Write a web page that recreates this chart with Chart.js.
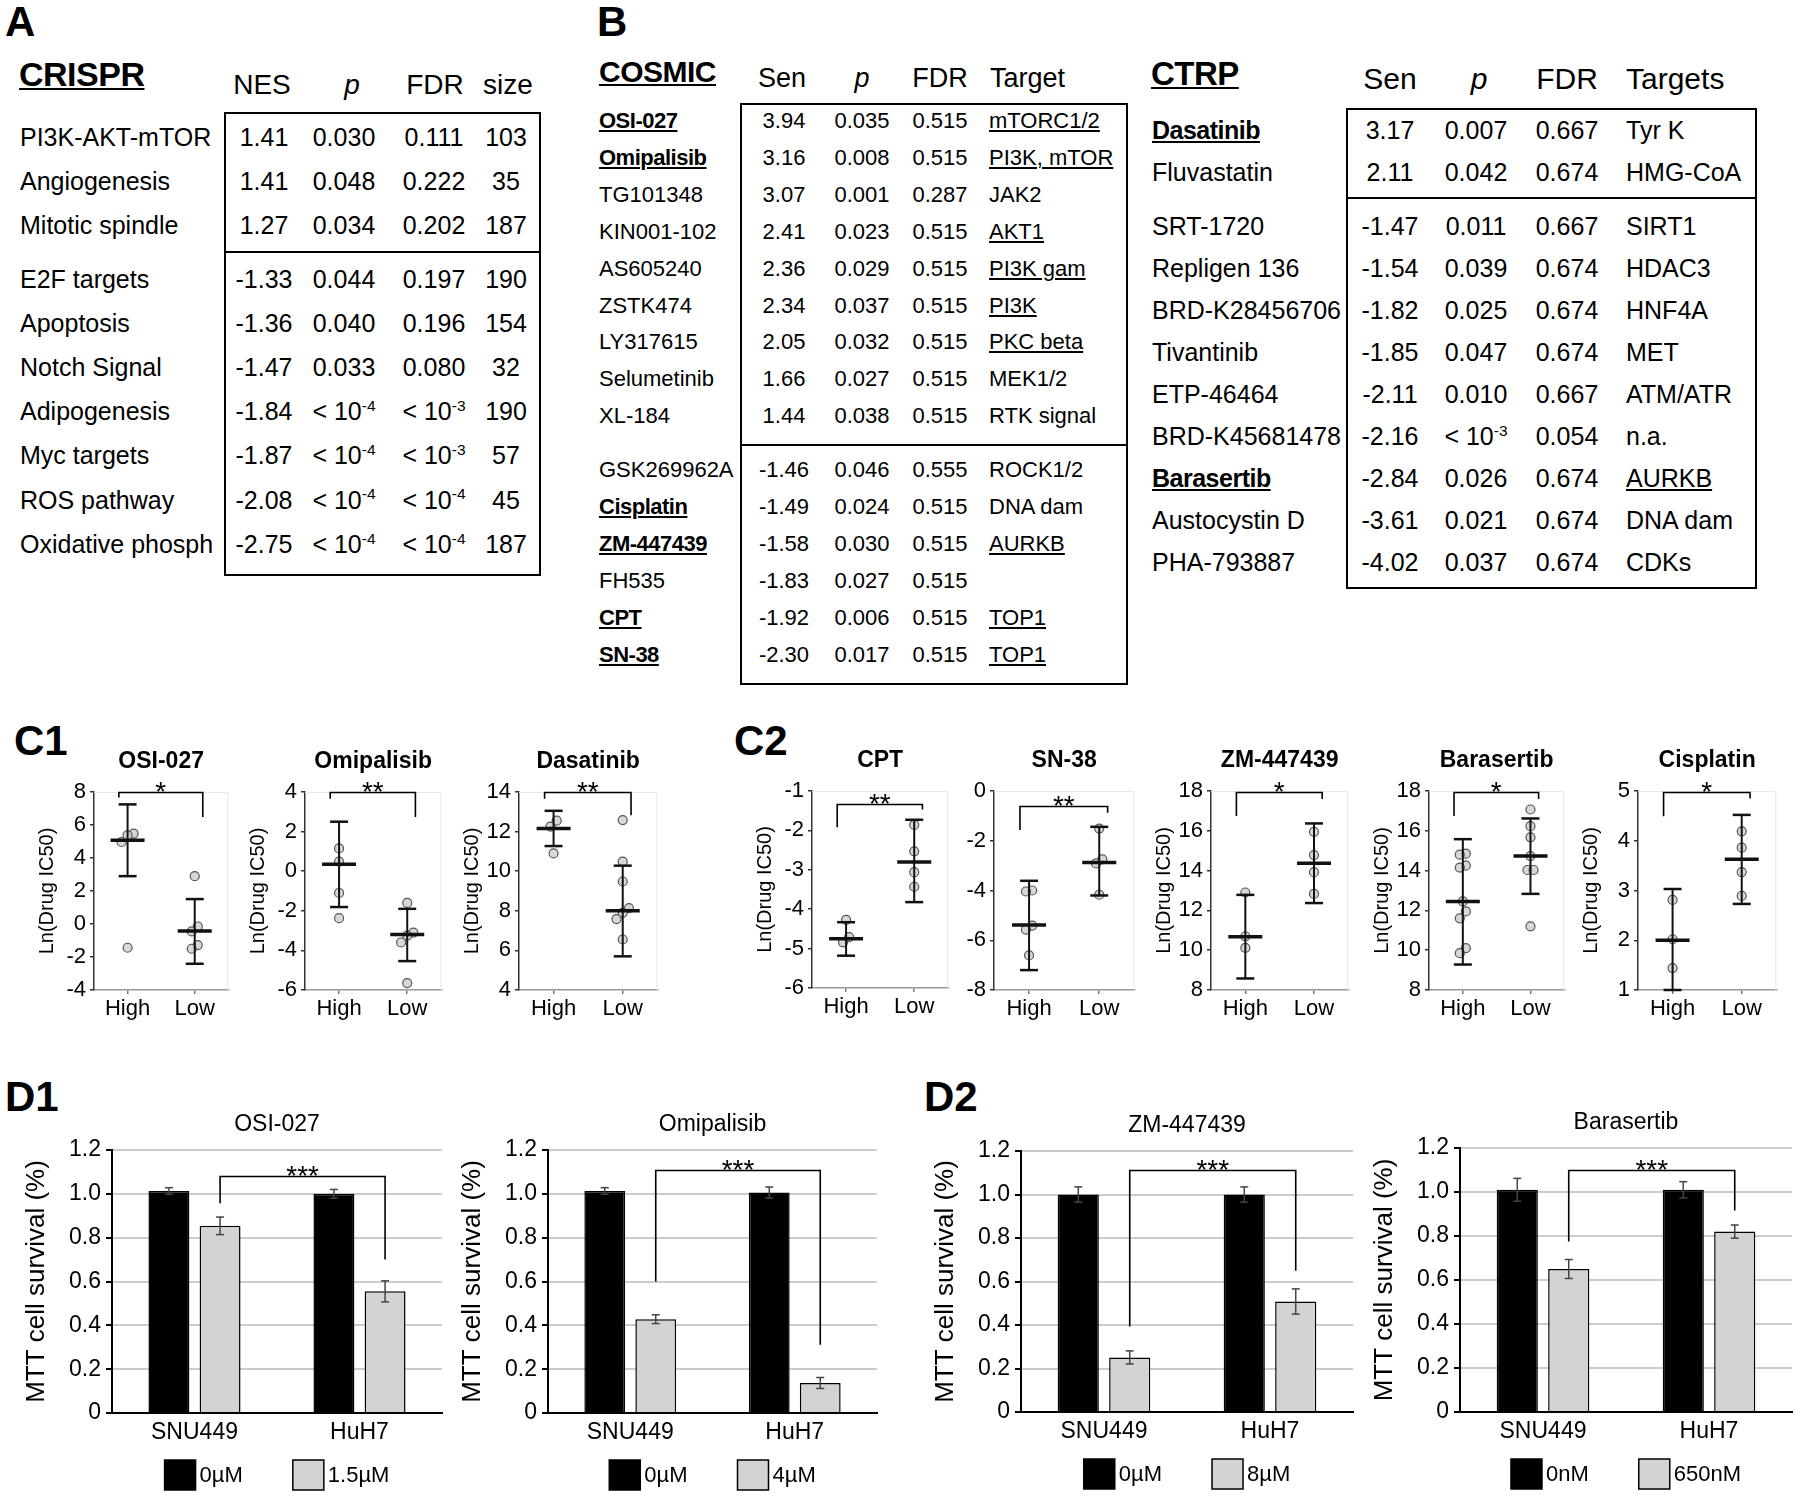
<!DOCTYPE html>
<html>
<head>
<meta charset="utf-8">
<script src="https://cdn.jsdelivr.net/npm/chart.js@4.4.1/dist/chart.umd.min.js"></script>
<style>
  body { margin: 0; background: #fff; }
  #fig { position: relative; width: 1800px; height: 1496px; overflow: hidden;
         font-family: "Liberation Sans", Arial, Helvetica, sans-serif; color: #000; }
  .abs { position: absolute; white-space: nowrap; }
  .ul { text-decoration: underline; text-decoration-thickness: 1.5px; text-underline-offset: 2px; }
  .bul { font-weight: bold; text-decoration: underline; text-decoration-thickness: 2px; text-underline-offset: 2px; letter-spacing: -0.5px; }
  .frame { position: absolute; border: 2px solid #000; box-sizing: border-box; }
  .rule { position: absolute; border-top: 2px solid #000; height: 0; }
  sup { font-size: 0.62em; vertical-align: 0; position: relative; top: -0.6em; }
  canvas { position: absolute; }
</style>
</head>
<body>
<div id="fig"></div>
<script>
// ---------- A: CRISPR table ----------
const crisprPathways = ['PI3K-AKT-mTOR', 'Angiogenesis', 'Mitotic spindle', 'E2F targets', 'Apoptosis',
  'Notch Signal', 'Adipogenesis', 'Myc targets', 'ROS pathway', 'Oxidative phosph'];
const crisprNES = ['1.41', '1.41', '1.27', '-1.33', '-1.36', '-1.47', '-1.84', '-1.87', '-2.08', '-2.75'];
const crisprP = ['0.030', '0.048', '0.034', '0.044', '0.040', '0.033', '< 10^-4', '< 10^-4', '< 10^-4', '< 10^-4'];
const crisprFDR = ['0.111', '0.222', '0.202', '0.197', '0.196', '0.080', '< 10^-3', '< 10^-3', '< 10^-4', '< 10^-4'];
const crisprSize = ['103', '35', '187', '190', '154', '32', '190', '57', '45', '187'];
const crisprUp = 3;

// ---------- B: COSMIC table ----------
const cosmicDrugs = ['OSI-027', 'Omipalisib', 'TG101348', 'KIN001-102', 'AS605240', 'ZSTK474', 'LY317615',
  'Selumetinib', 'XL-184', 'GSK269962A', 'Cisplatin', 'ZM-447439', 'FH535', 'CPT', 'SN-38'];
const cosmicSen = ['3.94', '3.16', '3.07', '2.41', '2.36', '2.34', '2.05', '1.66', '1.44',
  '-1.46', '-1.49', '-1.58', '-1.83', '-1.92', '-2.30'];
const cosmicP = ['0.035', '0.008', '0.001', '0.023', '0.029', '0.037', '0.032', '0.027', '0.038',
  '0.046', '0.024', '0.030', '0.027', '0.006', '0.017'];
const cosmicFDR = ['0.515', '0.515', '0.287', '0.515', '0.515', '0.515', '0.515', '0.515', '0.515',
  '0.555', '0.515', '0.515', '0.515', '0.515', '0.515'];
const cosmicTarget = ['mTORC1/2', 'PI3K, mTOR', 'JAK2', 'AKT1', 'PI3K gam', 'PI3K', 'PKC beta', 'MEK1/2', 'RTK signal',
  'ROCK1/2', 'DNA dam', 'AURKB', '', 'TOP1', 'TOP1'];
const cosmicTested = ['OSI-027', 'Omipalisib', 'Cisplatin', 'ZM-447439', 'CPT', 'SN-38'];
const cosmicPathTargets = ['mTORC1/2', 'PI3K, mTOR', 'AKT1', 'PI3K gam', 'PI3K', 'PKC beta', 'AURKB', 'TOP1'];
const cosmicUp = 9;

// ---------- B: CTRP table ----------
const ctrpDrugs = ['Dasatinib', 'Fluvastatin', 'SRT-1720', 'Repligen 136', 'BRD-K28456706', 'Tivantinib',
  'ETP-46464', 'BRD-K45681478', 'Barasertib', 'Austocystin D', 'PHA-793887'];
const ctrpSen = ['3.17', '2.11', '-1.47', '-1.54', '-1.82', '-1.85', '-2.11', '-2.16', '-2.84', '-3.61', '-4.02'];
const ctrpP = ['0.007', '0.042', '0.011', '0.039', '0.025', '0.047', '0.010', '< 10^-3', '0.026', '0.021', '0.037'];
const ctrpFDR = ['0.667', '0.674', '0.667', '0.674', '0.674', '0.674', '0.667', '0.054', '0.674', '0.674', '0.674'];
const ctrpTargets = ['Tyr K', 'HMG-CoA', 'SIRT1', 'HDAC3', 'HNF4A', 'MET', 'ATM/ATR', 'n.a.', 'AURKB', 'DNA dam', 'CDKs'];
const ctrpTested = ['Dasatinib', 'Barasertib'];
const ctrpPathTargets = ['AURKB'];
const ctrpUp = 2;

// ---------- C: Ln(Drug IC50) by expression group ----------
const groups = ['High', 'Low'];

const osiHigh = [5.48, 5.38, 4.97, -1.44];
const osiLow = [2.9, -0.15, -0.45, -1.28, -1.5];
const osiMean = [5.08, -0.43];
const osiUpper = [7.25, 1.51];
const osiLower = [2.9, -2.41];
const osiAxis = [-4, 8, 2];
const osiBracket = [8.0, 7.66, 6.49];

const omiHigh = [1.15, 0.48, -1.1, -2.37];
const omiLow = [-1.6, -3.1, -3.25, -3.6, -5.65];
const omiMean = [0.35, -3.2];
const omiUpper = [2.5, -1.9];
const omiLower = [-1.81, -4.54];
const omiAxis = [-6, 4, 2];
const omiBracket = [4.0, 3.66, 2.74];

const dasHigh = [12.55, 12.25, 10.9];
const dasLow = [12.58, 10.48, 9.48, 8.14, 7.9, 7.58, 6.55];
const dasMean = [12.16, 8.0];
const dasUpper = [13.05, 10.28];
const dasLower = [11.27, 5.7];
const dasAxis = [4, 14, 2];
const dasBracket = [14.0, 13.66, 12.83];

const cptHigh = [-4.27, -4.71, -4.84];
const cptLow = [-1.86, -2.53, -3.06, -3.43];
const cptMean = [-4.75, -2.8];
const cptUpper = [-4.33, -1.73];
const cptLower = [-5.18, -3.82];
const cptAxis = [-6, -1, 1];
const cptBracket = [-1.32, -1.92, -1.47];

const snHigh = [-4.0, -4.04, -5.41, -5.57, -6.61];
const snLow = [-1.51, -2.75, -2.91, -4.17];
const snMean = [-5.39, -2.87];
const snUpper = [-3.61, -1.44];
const snLower = [-7.2, -4.2];
const snAxis = [-8, 0, 2];
const snBracket = [-0.61, -1.57, -0.87];

const zmHigh = [12.9, 10.7, 10.12];
const zmLow = [15.95, 14.78, 13.92, 12.83];
const zmMean = [10.67, 14.37];
const zmUpper = [12.78, 16.37];
const zmLower = [8.58, 12.37];
const zmAxis = [8, 18, 2];
const zmBracket = [17.95, 16.75, 17.6];

const barHigh = [14.85, 14.8, 14.25, 14.15, 12.45, 11.95, 11.6, 10.1, 9.85];
const barLow = [17.07, 16.23, 15.67, 14.73, 14.03, 14.03, 11.2];
const barMean = [12.45, 14.73];
const barUpper = [15.58, 16.62];
const barLower = [9.28, 12.83];
const barAxis = [8, 18, 2];
const barBracket = [17.95, 16.75, 17.6];

const cisHigh = [2.81, 2.02, 1.44];
const cisLow = [4.19, 3.86, 3.37, 2.89];
const cisMean = [2.0, 3.63];
const cisUpper = [3.03, 4.52];
const cisLower = [1.0, 2.73];
const cisAxis = [1, 5, 1];
const cisBracket = [4.98, 4.49, 4.85];

// ---------- D: MTT cell survival ----------
const cellLines = ['SNU449', 'HuH7'];

const mOsiDoses = ['0µM', '1.5µM'];
const mOsiCtrl = [1.013, 1.0];
const mOsiCtrlErr = [0.015, 0.02];
const mOsiDrug = [0.854, 0.555];
const mOsiDrugErr = [0.04, 0.048];
const mOsiBracket = [1.082, 0.957, 0.70];

const mOmiDoses = ['0µM', '4µM'];
const mOmiCtrl = [1.013, 1.006];
const mOmiCtrlErr = [0.015, 0.025];
const mOmiDrug = [0.428, 0.137];
const mOmiDrugErr = [0.02, 0.025];
const mOmiBracket = [1.109, 0.60, 0.311];

const mZmDoses = ['0µM', '8µM'];
const mZmCtrl = [1.0, 1.0];
const mZmCtrlErr = [0.035, 0.035];
const mZmDrug = [0.251, 0.508];
const mZmDrugErr = [0.03, 0.058];
const mZmBracket = [1.113, 0.393, 0.65];

const mBarDoses = ['0nM', '650nM'];
const mBarCtrl = [1.01, 1.01];
const mBarCtrlErr = [0.052, 0.037];
const mBarDrug = [0.65, 0.82];
const mBarDrugErr = [0.043, 0.03];
const mBarBracket = [1.10, 0.775, 0.916];

const mttTicks = [0, 1.2, 0.2];

// ================= drawing =================
const fig = document.getElementById('fig');
const FONT = '"Liberation Sans", Arial, Helvetica, sans-serif';
Chart.defaults.font.family = FONT;
Chart.defaults.color = '#000';

function sup(s) { return s.replace(/\^(-?\d+)/, '<sup>$1</sup>'); }

function put(html, x, y, size, cls, align) {
  const d = document.createElement('div');
  d.className = 'abs' + (cls ? ' ' + cls : '');
  d.innerHTML = html;
  const lh = Math.round(size * 1.2);
  d.style.fontSize = size + 'px';
  d.style.lineHeight = lh + 'px';
  d.style.top = (y - lh / 2) + 'px';
  if (align === 'center') {
    d.style.left = (x - 150) + 'px'; d.style.width = '300px'; d.style.textAlign = 'center';
  } else {
    d.style.left = x + 'px';
  }
  fig.appendChild(d);
  return d;
}

function frame(l, t, r, b, divY) {
  const f = document.createElement('div');
  f.className = 'frame';
  Object.assign(f.style, { left: l + 'px', top: t + 'px', width: (r - l) + 'px', height: (b - t) + 'px' });
  fig.appendChild(f);
  const d = document.createElement('div');
  d.className = 'rule';
  Object.assign(d.style, { left: l + 'px', top: (divY - 1) + 'px', width: (r - l) + 'px' });
  fig.appendChild(d);
}

function rowYs(start, step, split, extra, n) {
  return Array.from({ length: n }, (_, i) => start + i * step + (i >= split ? extra : 0));
}

// panel letters
[['A', 5, 22], ['B', 597, 22], ['C1', 14, 741], ['C2', 734, 741], ['D1', 5, 1097], ['D2', 924, 1097]]
  .forEach(([t, x, y]) => { put(t, x, y, 42).style.fontWeight = 'bold'; });

// table A
put('CRISPR', 19, 74, 34, 'bul');
put('NES', 262, 85, 28, null, 'center');
put('<i>p</i>', 352, 85, 28, null, 'center');
put('FDR', 435, 85, 28, null, 'center');
put('size', 508, 85, 28, null, 'center');
frame(224, 112, 541, 576, 252);
const aY = rowYs(137, 44.2, crisprUp, 9, crisprPathways.length);
crisprPathways.forEach((n, i) => {
  put(n, 20, aY[i], 25);
  put(crisprNES[i], 264, aY[i], 25, null, 'center');
  put(sup(crisprP[i]), 344, aY[i], 25, null, 'center');
  put(sup(crisprFDR[i]), 434, aY[i], 25, null, 'center');
  put(crisprSize[i], 506, aY[i], 25, null, 'center');
});

// table B COSMIC
put('COSMIC', 599, 72, 30, 'bul');
put('Sen', 782, 78, 27, null, 'center');
put('<i>p</i>', 862, 78, 27, null, 'center');
put('FDR', 940, 78, 27, null, 'center');
put('Target', 990, 78, 27);
frame(740, 103, 1128, 685, 445);
const bY = rowYs(121, 36.9, cosmicUp, 17, cosmicDrugs.length);
cosmicDrugs.forEach((n, i) => {
  put(n, 599, bY[i], 22, cosmicTested.includes(n) ? 'bul' : null);
  put(cosmicSen[i], 784, bY[i], 22, null, 'center');
  put(sup(cosmicP[i]), 862, bY[i], 22, null, 'center');
  put(cosmicFDR[i], 940, bY[i], 22, null, 'center');
  put(cosmicTarget[i], 989, bY[i], 22, cosmicPathTargets.includes(cosmicTarget[i]) ? 'ul' : null);
});

// table B CTRP
put('CTRP', 1151, 74, 33, 'bul');
put('Sen', 1390, 79, 30, null, 'center');
put('<i>p</i>', 1479, 79, 30, null, 'center');
put('FDR', 1567, 79, 30, null, 'center');
put('Targets', 1626, 79, 30);
frame(1346, 108, 1757, 589, 198);
const cY = rowYs(130, 42, ctrpUp, 12, ctrpDrugs.length);
ctrpDrugs.forEach((n, i) => {
  put(n, 1152, cY[i], 25, ctrpTested.includes(n) ? 'bul' : null);
  put(ctrpSen[i], 1390, cY[i], 25, null, 'center');
  put(sup(ctrpP[i]), 1476, cY[i], 25, null, 'center');
  put(ctrpFDR[i], 1567, cY[i], 25, null, 'center');
  put(ctrpTargets[i], 1626, cY[i], 25, ctrpPathTargets.includes(ctrpTargets[i]) ? 'ul' : null);
});

// ---------- chart helpers ----------
function line(ctx, x1, y1, x2, y2) {
  ctx.beginPath(); ctx.moveTo(x1, y1); ctx.lineTo(x2, y2); ctx.stroke();
}

const decor = {
  id: 'decor',
  beforeDatasetsDraw(chart, args, o) {
    if (!o.frame) return;
    const { ctx, chartArea: a } = chart;
    ctx.save();
    ctx.strokeStyle = '#e8e8e8'; ctx.lineWidth = 1;
    ctx.beginPath(); ctx.moveTo(a.left, a.top + 0.5); ctx.lineTo(a.right - 0.5, a.top + 0.5);
    ctx.lineTo(a.right - 0.5, a.bottom); ctx.stroke();
    ctx.restore();
  },
  afterDatasetsDraw(chart, args, o) {
    const { ctx, chartArea: a, scales: { x, y } } = chart;
    ctx.save();
    ctx.lineCap = 'butt';
    // mean +/- sd for dot plots
    if (o.mean) {
      ctx.strokeStyle = '#111';
      o.mean.forEach((m, i) => {
        const px = x.getPixelForValue(i);
        const yu = y.getPixelForValue(o.upper[i]), yl = y.getPixelForValue(o.lower[i]);
        const ym = y.getPixelForValue(m);
        ctx.lineWidth = 2; line(ctx, px, yu, px, yl);
        ctx.lineWidth = 2.5; line(ctx, px - 9, yu, px + 9, yu); line(ctx, px - 9, yl, px + 9, yl);
        ctx.lineWidth = 3.5; line(ctx, px - 17, ym, px + 17, ym);
      });
    }
    // error bars for bar charts
    if (o.errors) {
      ctx.strokeStyle = '#444'; ctx.lineWidth = 1.5;
      o.errors.forEach((errs, d) => {
        const meta = chart.getDatasetMeta(d);
        errs.forEach((e, j) => {
          const v = chart.data.datasets[d].data[j];
          const px = meta.data[j].x;
          const yu = y.getPixelForValue(v + e), yl = y.getPixelForValue(v - e);
          line(ctx, px, yu, px, yl); line(ctx, px - 4, yu, px + 4, yu); line(ctx, px - 4, yl, px + 4, yl);
        });
      });
    }
    // significance bracket
    if (o.bracket) {
      const [by, l1, l2] = o.bracket;
      let x1, x2;
      if (o.errors) {
        const m = chart.getDatasetMeta(1); x1 = m.data[0].x; x2 = m.data[1].x;
      } else {
        x1 = x.getPixelForValue(-0.13); x2 = x.getPixelForValue(1.12);
      }
      const py = Math.round(y.getPixelForValue(by)) + 0.5;
      ctx.strokeStyle = '#000'; ctx.lineWidth = 1.6;
      ctx.beginPath();
      ctx.moveTo(x1, y.getPixelForValue(l1)); ctx.lineTo(x1, py); ctx.lineTo(x2, py);
      ctx.lineTo(x2, y.getPixelForValue(l2)); ctx.stroke();
      ctx.fillStyle = '#000'; ctx.font = '28px ' + FONT;
      ctx.textAlign = 'center'; ctx.textBaseline = 'alphabetic';
      ctx.fillText(o.stars, (x1 + x2) / 2, py + 8);
    }
    // panel title
    if (o.title) {
      ctx.fillStyle = '#000';
      ctx.font = (o.titleBold ? 'bold ' : '') + o.titleSize + 'px ' + FONT;
      ctx.textAlign = 'center'; ctx.textBaseline = 'alphabetic';
      ctx.fillText(o.title, (a.left + a.right) / 2, a.top - o.titleGap);
    }
    // legend under the bars
    if (o.legend) {
      const ds = chart.data.datasets;
      ctx.font = '22px ' + FONT;
      const bw = 31, bh = 30, gap = 4, sep = 50;
      const widths = ds.map(d => ctx.measureText(d.label).width);
      const total = widths.reduce((s, w) => s + bw + gap + w, 0) + sep * (ds.length - 1);
      let cx = (a.left + a.right) / 2 - total / 2;
      const top = a.bottom + 47;
      ds.forEach((d, i) => {
        ctx.fillStyle = d.backgroundColor; ctx.fillRect(cx, top, bw, bh);
        ctx.strokeStyle = '#000'; ctx.lineWidth = 1.5; ctx.strokeRect(cx, top, bw, bh);
        ctx.fillStyle = '#000'; ctx.textAlign = 'left'; ctx.textBaseline = 'middle';
        ctx.fillText(d.label, cx + bw + gap, top + bh / 2 + 1);
        cx += bw + gap + widths[i] + sep;
      });
    }
    ctx.restore();
  }
};

function placeCanvas(r, m) {
  const c = document.createElement('canvas');
  const w = r.R - r.L + m.yw + m.pr, h = r.B - r.T + m.pt + m.xh + m.pb;
  c.width = w; c.height = h;
  Object.assign(c.style, { left: (r.L - m.yw) + 'px', top: (r.T - m.pt) + 'px', width: w + 'px', height: h + 'px' });
  fig.appendChild(c);
  return c;
}

// small horizontal spread for overlapping points
function spread(vals, gi, span) {
  const order = vals.map((v, i) => i).sort((p, q) => vals[p] - vals[q]);
  const xs = new Array(vals.length).fill(gi);
  let k = 0;
  while (k < order.length) {
    let e = k;
    while (e + 1 < order.length && vals[order[e + 1]] - vals[order[e]] < span * 0.04) e++;
    const n = e - k + 1;
    for (let j = k; j <= e; j++) xs[order[j]] = gi + (j - k - (n - 1) / 2) * 0.09;
    k = e + 1;
  }
  return vals.map((v, i) => ({ x: xs[i], y: v }));
}

function dotChart(p) {
  const m = { yw: 62, pt: 60, pr: 4, xh: 40, pb: 4 };
  const c = placeCanvas(p.rect, m);
  const span = p.axis[1] - p.axis[0];
  new Chart(c, {
    type: 'scatter',
    data: { datasets: [{
      data: spread(p.high, 0, span).concat(spread(p.low, 1, span)),
      pointRadius: 4.5, pointBackgroundColor: 'rgba(208,208,208,0.85)',
      pointBorderColor: '#555', pointBorderWidth: 1.2
    }] },
    options: {
      responsive: false, animation: false, devicePixelRatio: 1,
      layout: { padding: { top: m.pt, right: m.pr, bottom: m.pb, left: 0 } },
      plugins: {
        legend: { display: false }, tooltip: { enabled: false },
        decor: { frame: true, mean: p.mean, upper: p.upper, lower: p.lower, bracket: p.bracket, stars: p.stars,
                 title: p.title, titleBold: true, titleSize: 23, titleGap: 24 }
      },
      scales: {
        x: {
          type: 'linear', min: -0.5, max: 1.5,
          afterBuildTicks: s => { s.ticks = groups.map((g, i) => ({ value: i })); },
          afterFit: s => { s.height = m.xh; },
          ticks: { callback: v => groups[v], font: { size: 22 }, color: '#000', padding: 2, maxRotation: 0, autoSkip: false },
          grid: { drawOnChartArea: false, tickLength: 4, color: '#777', lineWidth: 1.5 },
          border: { color: '#999', width: 1.5 }
        },
        y: {
          min: p.axis[0], max: p.axis[1],
          afterFit: s => { s.width = m.yw; },
          ticks: { stepSize: p.axis[2], font: { size: 22 }, color: '#000', padding: 4 },
          grid: { drawOnChartArea: false, tickLength: 4, color: '#333', lineWidth: 1.5 },
          border: { color: '#333', width: 1.5 },
          title: { display: p.yTitle !== false, text: 'Ln(Drug IC50)', font: { size: 20 }, color: '#000',
                   padding: { top: 3, bottom: 0 } }
        }
      }
    },
    plugins: [decor]
  });
}

function barChart(p) {
  const m = { yw: 95, pt: 70, pr: 6, xh: 42, pb: 42 };
  const c = placeCanvas(p.rect, m);
  new Chart(c, {
    type: 'bar',
    data: {
      labels: cellLines,
      datasets: [
        { label: p.doses[0], data: p.ctrl, backgroundColor: '#000000', borderColor: '#000', borderWidth: 1.5 },
        { label: p.doses[1], data: p.drug, backgroundColor: '#d3d3d3', borderColor: '#000', borderWidth: 1.5 }
      ]
    },
    options: {
      responsive: false, animation: false, devicePixelRatio: 1,
      layout: { padding: { top: m.pt, right: m.pr, bottom: m.pb, left: 0 } },
      datasets: { bar: { categoryPercentage: 0.62, barPercentage: 0.8 } },
      plugins: {
        legend: { display: false }, tooltip: { enabled: false },
        decor: { errors: [p.ctrlErr, p.drugErr], bracket: p.bracket, stars: '***', legend: true,
                 title: p.title, titleBold: false, titleSize: 23, titleGap: 19 }
      },
      scales: {
        x: {
          afterFit: s => { s.height = m.xh; },
          ticks: { font: { size: 23 }, color: '#000', padding: 6 },
          grid: { display: false, drawTicks: false },
          border: { color: '#000', width: 2 }
        },
        y: {
          min: mttTicks[0], max: mttTicks[1],
          afterFit: s => { s.width = m.yw; },
          ticks: { stepSize: mttTicks[2], callback: v => (v === 0 ? '0' : v.toFixed(1)), font: { size: 23 }, color: '#000', padding: 5 },
          grid: { color: '#cccccc', lineWidth: 2, tickLength: 6, tickColor: '#000' },
          border: { color: '#000', width: 2 },
          title: { display: true, text: 'MTT cell survival (%)', font: { size: 26 }, color: '#000',
                   padding: { top: 4, bottom: 0 } }
        }
      }
    },
    plugins: [decor]
  });
}

// C1 / C2
dotChart({ rect: { L: 94, T: 792, R: 230, B: 990 }, title: 'OSI-027', high: osiHigh, low: osiLow, mean: osiMean,
  upper: osiUpper, lower: osiLower, axis: osiAxis, bracket: osiBracket, stars: '*' });
dotChart({ rect: { L: 305, T: 792, R: 443, B: 990 }, title: 'Omipalisib', high: omiHigh, low: omiLow, mean: omiMean,
  upper: omiUpper, lower: omiLower, axis: omiAxis, bracket: omiBracket, stars: '**' });
dotChart({ rect: { L: 519, T: 792, R: 659, B: 990 }, title: 'Dasatinib', high: dasHigh, low: dasLow, mean: dasMean,
  upper: dasUpper, lower: dasLower, axis: dasAxis, bracket: dasBracket, stars: '**' });
dotChart({ rect: { L: 812, T: 791, R: 950, B: 988 }, title: 'CPT', high: cptHigh, low: cptLow, mean: cptMean,
  upper: cptUpper, lower: cptLower, axis: cptAxis, bracket: cptBracket, stars: '**' });
dotChart({ rect: { L: 994, T: 791, R: 1136, B: 990 }, title: 'SN-38', high: snHigh, low: snLow, mean: snMean,
  upper: snUpper, lower: snLower, axis: snAxis, bracket: snBracket, stars: '**', yTitle: false });
dotChart({ rect: { L: 1211, T: 791, R: 1350, B: 990 }, title: 'ZM-447439', high: zmHigh, low: zmLow, mean: zmMean,
  upper: zmUpper, lower: zmLower, axis: zmAxis, bracket: zmBracket, stars: '*' });
dotChart({ rect: { L: 1429, T: 791, R: 1566, B: 990 }, title: 'Barasertib', high: barHigh, low: barLow, mean: barMean,
  upper: barUpper, lower: barLower, axis: barAxis, bracket: barBracket, stars: '*' });
dotChart({ rect: { L: 1638, T: 791, R: 1778, B: 990 }, title: 'Cisplatin', high: cisHigh, low: cisLow, mean: cisMean,
  upper: cisUpper, lower: cisLower, axis: cisAxis, bracket: cisBracket, stars: '*' });

// D1 / D2
barChart({ rect: { L: 112, T: 1150, R: 442, B: 1413 }, title: 'OSI-027', doses: mOsiDoses, ctrl: mOsiCtrl,
  ctrlErr: mOsiCtrlErr, drug: mOsiDrug, drugErr: mOsiDrugErr, bracket: mOsiBracket });
barChart({ rect: { L: 548, T: 1150, R: 877, B: 1413 }, title: 'Omipalisib', doses: mOmiDoses, ctrl: mOmiCtrl,
  ctrlErr: mOmiCtrlErr, drug: mOmiDrug, drugErr: mOmiDrugErr, bracket: mOmiBracket });
barChart({ rect: { L: 1021, T: 1151, R: 1353, B: 1412 }, title: 'ZM-447439', doses: mZmDoses, ctrl: mZmCtrl,
  ctrlErr: mZmCtrlErr, drug: mZmDrug, drugErr: mZmDrugErr, bracket: mZmBracket });
barChart({ rect: { L: 1460, T: 1148, R: 1792, B: 1412 }, title: 'Barasertib', doses: mBarDoses, ctrl: mBarCtrl,
  ctrlErr: mBarCtrlErr, drug: mBarDrug, drugErr: mBarDrugErr, bracket: mBarBracket });
</script>
</body>
</html>
